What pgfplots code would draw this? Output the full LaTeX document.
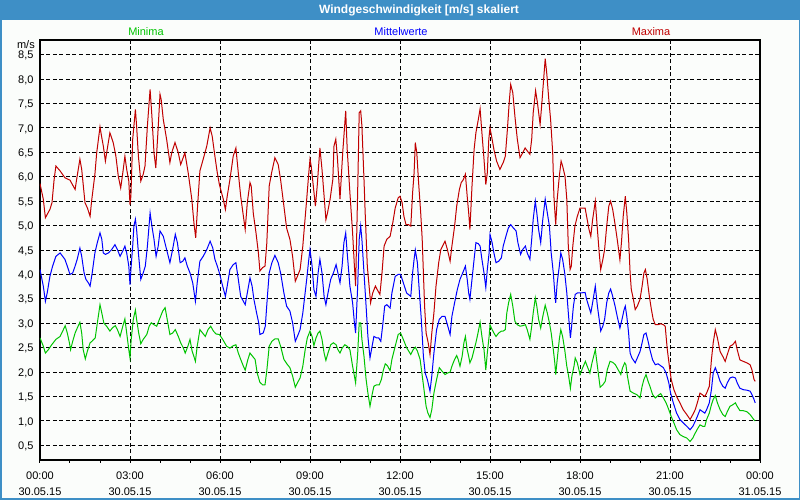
\documentclass[border=0pt]{standalone}
\usepackage{pgfplots}
\pgfplotsset{compat=1.18}
\usepackage{fontspec}
\setmainfont{Liberation Sans}
\definecolor{titlebar}{RGB}{62,143,198}
\definecolor{bgwin}{RGB}{251,253,251}
\definecolor{cmax}{RGB}{192,0,0}
\definecolor{cmean}{RGB}{0,0,255}
\definecolor{cmin}{RGB}{0,196,0}
\begin{document}
\begin{tikzpicture}[x=1pt,y=1pt]
\useasboundingbox (0,0) rectangle (800,500);
\fill[bgwin] (0,0) rectangle (800,500);
\fill[titlebar] (0,480) rectangle (800,500);
\draw[titlebar,line width=1.5pt] (0.75,0.75) rectangle (799.25,499.25);
\node[anchor=base,text=white,font=\fontsize{12}{14}\selectfont\bfseries] at (419,486) {Windgeschwindigkeit [m/s] skaliert};
\node[anchor=base,text=cmin,font=\fontsize{11}{13}\selectfont] at (146,464) {Minima};
\node[anchor=base,text=cmean,font=\fontsize{11}{13}\selectfont] at (401,464) {Mittelwerte};
\node[anchor=base,text=cmax,font=\fontsize{11}{13}\selectfont] at (651,464) {Maxima};
\node[anchor=base east,font=\fontsize{11}{13}\selectfont,inner sep=0pt] at (35,451.5) {m/s};
\begin{axis}[
  at={(40pt,40pt)}, anchor=south west,
  width=720pt, height=420pt, scale only axis,
  xmin=0, xmax=24, ymin=0.2, ymax=8.8,
  xtick={0,3,...,24},
  minor xtick={1,2,4,5,7,8,10,11,13,14,16,17,19,20,22,23},
  xticklabels={{00:00\\30.05.15},{03:00\\30.05.15},{06:00\\30.05.15},{09:00\\30.05.15},{12:00\\30.05.15},{15:00\\30.05.15},{18:00\\30.05.15},{21:00\\30.05.15},{00:00\\31.05.15}},
  xticklabel style={align=center,font=\fontsize{11}{16}\selectfont,yshift=-5pt},
  ytick={0.5,1,...,8.5},
  yticklabel style={font=\fontsize{11}{13}\selectfont,yshift=-1pt,
    /pgf/number format/assume math mode=true,
    /pgf/number format/use comma,
    /pgf/number format/fixed,
    /pgf/number format/fixed zerofill,
    /pgf/number format/precision=1},
  tick align=outside,
  xtick pos=lower, ytick pos=left,
  major tick length=3pt, minor tick length=3pt,
  tick style={black,line width=1pt},
  ytick style={draw=none},
  grid=major,
  major grid style={black,line width=0.9pt,dash pattern=on 4pt off 2.5pt},
  axis line style={black,line width=1.6pt},
  axis background/.style={fill=bgwin},
  clip=true,
]
\addplot[cmin,line width=1pt] coordinates {
(0.00,2.70)(0.11,2.53)(0.18,2.39)(0.28,2.46)(0.39,2.56)(0.53,2.67)(0.67,2.73)(0.78,2.87)(0.84,2.95)(0.91,2.80)(0.98,2.60)(1.02,2.46)(1.09,2.63)(1.17,2.80)(1.24,2.90)(1.33,3.02)(1.39,2.80)(1.44,2.46)(1.51,2.27)(1.58,2.43)(1.67,2.60)(1.73,2.63)(1.84,2.70)(1.91,3.00)(2.00,3.38)(2.06,3.21)(2.13,3.00)(2.22,2.94)(2.33,2.84)(2.42,2.91)(2.51,2.95)(2.58,2.87)(2.67,2.73)(2.76,2.94)(2.83,3.09)(2.89,2.80)(2.96,2.46)(3.00,2.29)(3.04,2.67)(3.11,3.08)(3.18,3.27)(3.22,3.08)(3.29,2.80)(3.36,2.58)(3.44,2.67)(3.56,2.77)(3.64,2.94)(3.71,3.01)(3.80,2.97)(3.89,2.94)(4.00,3.11)(4.09,3.25)(4.17,3.32)(4.24,3.08)(4.33,2.77)(4.42,2.80)(4.51,2.87)(4.61,2.73)(4.69,2.60)(4.78,2.49)(4.84,2.39)(4.93,2.53)(5.00,2.67)(5.07,2.43)(5.13,2.32)(5.18,2.22)(5.24,2.53)(5.33,2.87)(5.42,2.80)(5.51,2.73)(5.60,2.87)(5.69,2.94)(5.78,2.84)(5.87,2.78)(5.98,2.77)
(6.09,2.67)(6.22,2.53)(6.33,2.49)(6.44,2.54)(6.53,2.56)(6.61,2.39)(6.69,2.26)(6.78,2.12)(6.84,2.04)(6.93,2.26)(7.00,2.39)(7.09,2.32)(7.17,2.26)(7.24,1.98)(7.33,1.79)(7.42,1.74)(7.50,1.74)(7.56,2.03)(7.64,2.53)(7.73,2.63)(7.83,2.68)(7.94,2.68)(8.02,2.53)(8.13,2.26)(8.24,2.16)(8.33,2.09)(8.42,1.92)(8.51,1.69)(8.58,1.78)(8.67,1.88)(8.76,2.12)(8.84,2.46)(8.91,2.70)(9.00,2.84)(9.07,2.73)(9.13,2.54)(9.20,2.70)(9.27,2.80)(9.33,2.84)(9.40,2.67)(9.47,2.39)(9.53,2.24)(9.60,2.39)(9.69,2.56)(9.78,2.60)(9.87,2.56)(9.93,2.46)(10.00,2.39)(10.07,2.49)(10.16,2.56)(10.24,2.53)(10.33,2.46)(10.42,2.12)(10.48,1.92)(10.52,1.78)(10.59,2.39)(10.64,3.01)(10.69,3.01)(10.73,2.67)(10.80,2.32)(10.87,1.85)(10.93,1.57)(11.00,1.30)(11.07,1.54)(11.13,1.71)(11.22,1.74)(11.31,1.74)(11.38,1.85)(11.44,2.03)(11.51,2.17)(11.58,2.13)(11.67,2.03)(11.73,2.26)(11.84,2.53)(11.94,2.77)
(12.02,2.80)(12.11,2.67)(12.22,2.50)(12.36,2.36)(12.44,2.46)(12.51,2.51)(12.58,2.43)(12.67,2.26)(12.73,1.98)(12.80,1.64)(12.87,1.30)(12.93,1.16)(13.00,1.07)(13.06,1.23)(13.13,1.57)(13.22,1.85)(13.31,2.09)(13.40,2.02)(13.50,1.95)(13.58,1.98)(13.67,2.00)(13.73,2.12)(13.82,2.26)(13.89,2.34)(13.94,2.26)(14.00,2.12)(14.07,2.32)(14.13,2.60)(14.18,2.73)(14.24,2.46)(14.29,2.32)(14.33,2.19)(14.40,2.29)(14.47,2.46)(14.53,2.60)(14.60,2.80)(14.67,3.02)(14.73,2.73)(14.80,2.46)(14.86,2.04)(14.91,2.39)(14.97,2.73)(15.00,2.97)(15.07,2.87)(15.13,2.80)(15.20,2.73)(15.29,2.80)(15.38,2.84)(15.44,2.84)(15.51,2.87)(15.56,3.21)(15.62,3.42)(15.69,3.59)(15.76,3.35)(15.83,3.04)(15.91,2.97)(16.00,2.94)(16.09,2.95)(16.18,2.97)(16.24,2.87)(16.33,2.67)(16.39,2.94)(16.44,3.21)(16.51,3.52)(16.56,3.35)(16.62,3.08)(16.69,2.90)(16.76,3.14)(16.84,3.37)(16.91,3.21)(16.98,3.01)(17.04,2.80)(17.11,2.46)(17.16,2.19)(17.19,1.95)(17.24,2.26)(17.31,2.67)(17.36,2.87)(17.42,2.73)(17.49,2.46)(17.56,2.12)(17.62,1.92)(17.68,1.67)(17.73,1.92)(17.80,2.12)(17.84,2.29)(17.91,2.19)(18.00,1.95)
(18.09,2.09)(18.18,2.22)(18.24,2.12)(18.33,1.98)(18.40,2.19)(18.51,2.46)(18.58,2.12)(18.67,1.69)(18.76,1.74)(18.84,1.81)(18.91,2.05)(19.00,2.22)(19.09,2.20)(19.18,2.15)(19.27,2.05)(19.36,1.95)(19.42,2.09)(19.49,2.19)(19.53,2.15)(19.58,1.92)(19.67,1.61)(19.78,1.57)(19.89,1.54)(20.00,1.47)(20.07,1.71)(20.13,1.85)(20.20,1.95)(20.27,1.81)(20.33,1.71)(20.42,1.54)(20.51,1.47)(20.60,1.52)(20.69,1.56)(20.78,1.47)(20.87,1.37)(20.96,1.23)(21.04,1.09)(21.13,0.96)(21.22,0.82)(21.33,0.72)(21.44,0.68)(21.56,0.65)(21.67,0.58)(21.76,0.65)(21.84,0.75)(21.91,0.83)(22.00,0.92)(22.09,0.89)(22.16,0.89)(22.22,1.03)(22.31,1.16)(22.38,1.33)(22.44,1.44)(22.51,1.52)(22.58,1.37)(22.67,1.23)(22.76,1.13)(22.84,1.09)(22.91,1.19)(23.00,1.30)(23.09,1.33)(23.18,1.37)(23.24,1.30)(23.33,1.21)(23.44,1.21)(23.56,1.19)(23.67,1.13)(23.73,1.08)(23.80,1.02)(23.84,1.00)
};
\addplot[cmean,line width=1pt] coordinates {
(0.00,4.10)(0.11,3.76)(0.18,3.45)(0.24,3.62)(0.33,3.96)(0.42,4.17)(0.53,4.37)(0.67,4.44)(0.83,4.31)(0.91,4.17)(1.00,4.00)(1.09,4.03)(1.17,4.17)(1.24,4.31)(1.33,4.54)(1.39,4.37)(1.47,4.03)(1.53,3.90)(1.61,3.83)(1.67,3.76)(1.74,4.03)(1.83,4.44)(1.91,4.65)(2.00,4.85)(2.06,4.72)(2.11,4.44)(2.18,4.41)(2.28,4.44)(2.39,4.51)(2.50,4.61)(2.58,4.51)(2.67,4.37)(2.76,4.48)(2.83,4.58)(2.89,4.44)(2.96,4.17)(3.00,3.79)(3.03,4.10)(3.09,4.58)(3.13,4.99)(3.18,5.13)(3.22,4.92)(3.28,4.44)(3.36,3.90)(3.44,4.03)(3.51,4.17)(3.58,4.58)(3.67,5.26)(3.73,4.99)(3.80,4.72)(3.87,4.37)(3.94,4.58)(4.00,4.89)(4.11,4.78)(4.22,4.51)(4.33,4.24)(4.42,4.51)(4.51,4.82)(4.58,4.65)(4.67,4.24)(4.76,4.27)(4.83,4.34)(4.91,4.17)(5.00,4.03)(5.09,3.83)(5.18,3.45)(5.24,3.83)(5.33,4.27)(5.44,4.37)(5.56,4.51)(5.67,4.68)(5.76,4.54)(5.83,4.31)(5.91,4.17)(5.98,4.03)
(6.09,3.76)(6.18,3.55)(6.24,3.76)(6.33,4.10)(6.44,4.20)(6.53,4.24)(6.61,3.90)(6.69,3.55)(6.78,3.45)(6.84,3.38)(6.93,3.69)(7.00,3.93)(7.07,3.76)(7.13,3.49)(7.22,3.21)(7.29,3.01)(7.33,2.77)(7.44,2.80)(7.51,2.94)(7.58,3.55)(7.64,4.03)(7.73,4.24)(7.83,4.39)(7.94,4.24)(8.02,4.03)(8.13,3.62)(8.22,3.35)(8.33,3.25)(8.42,3.01)(8.51,2.63)(8.58,2.73)(8.67,2.87)(8.76,3.21)(8.89,3.90)(8.96,4.31)(9.00,4.51)(9.07,4.17)(9.13,3.69)(9.20,3.55)(9.27,4.03)(9.33,4.31)(9.40,4.03)(9.47,3.55)(9.53,3.38)(9.60,3.62)(9.69,3.90)(9.78,4.03)(9.87,4.20)(9.93,4.03)(10.00,3.83)(10.07,4.17)(10.13,4.65)(10.19,4.85)(10.24,4.44)(10.33,3.76)(10.42,3.42)(10.48,3.01)(10.52,2.80)(10.59,3.76)(10.64,4.72)(10.69,4.99)(10.73,4.72)(10.80,4.03)(10.87,3.35)(10.93,2.73)(11.00,2.29)(11.07,2.53)(11.13,2.73)(11.22,2.70)(11.29,2.70)(11.36,2.63)(11.42,2.94)(11.49,3.35)(11.56,3.38)(11.67,3.31)(11.73,3.62)(11.84,3.96)(11.94,4.00)
(12.02,4.00)(12.11,3.83)(12.22,3.62)(12.36,3.55)(12.42,4.03)(12.47,4.31)(12.51,4.50)(12.58,4.24)(12.64,3.69)(12.71,3.08)(12.78,2.32)(12.84,1.98)(12.91,1.85)(13.00,1.61)(13.06,1.92)(13.13,2.39)(13.22,2.87)(13.31,3.08)(13.40,3.14)(13.50,3.14)(13.58,2.97)(13.67,2.77)(13.73,3.14)(13.82,3.42)(13.91,3.69)(14.00,3.90)(14.09,4.03)(14.18,4.17)(14.24,3.90)(14.29,3.62)(14.33,3.49)(14.40,3.90)(14.47,4.31)(14.53,4.65)(14.61,4.63)(14.67,4.58)(14.73,4.31)(14.80,4.03)(14.86,3.73)(14.91,4.10)(14.97,4.44)(15.00,4.82)(15.07,4.65)(15.13,4.44)(15.20,4.24)(15.29,4.27)(15.38,4.34)(15.44,4.58)(15.53,4.78)(15.61,4.95)(15.69,5.02)(15.78,4.95)(15.87,4.89)(15.93,4.65)(16.02,4.41)(16.09,4.51)(16.18,4.58)(16.24,4.44)(16.33,4.31)(16.39,4.72)(16.44,5.13)(16.51,5.50)(16.56,5.26)(16.62,4.92)(16.69,4.65)(16.76,5.13)(16.84,5.54)(16.91,5.26)(16.98,4.99)(17.04,4.44)(17.11,4.03)(17.16,3.62)(17.19,3.42)(17.24,3.83)(17.31,4.17)(17.36,4.44)(17.42,4.31)(17.49,4.03)(17.56,3.62)(17.62,3.14)(17.68,2.70)(17.72,2.94)(17.78,3.35)(17.84,3.59)(17.91,3.62)(18.00,3.62)
(18.17,3.63)(18.22,3.49)(18.29,3.35)(18.36,3.21)(18.42,3.42)(18.51,3.76)(18.58,3.35)(18.64,3.08)(18.69,2.84)(18.76,2.94)(18.82,3.08)(18.89,3.42)(18.96,3.62)(19.02,3.70)(19.09,3.55)(19.17,3.35)(19.24,3.14)(19.33,2.90)(19.40,3.08)(19.47,3.28)(19.51,3.35)(19.56,3.14)(19.62,2.80)(19.67,2.39)(19.73,2.29)(19.84,2.19)(19.91,2.29)(20.00,2.42)(20.07,2.60)(20.13,2.77)(20.20,2.80)(20.27,2.63)(20.33,2.46)(20.42,2.25)(20.51,2.15)(20.60,2.17)(20.69,2.13)(20.78,2.09)(20.87,1.98)(20.96,1.78)(21.02,1.57)(21.11,1.37)(21.22,1.16)(21.33,1.03)(21.44,0.96)(21.56,0.89)(21.67,0.82)(21.76,0.89)(21.84,0.99)(21.91,1.09)(22.00,1.23)(22.09,1.19)(22.16,1.16)(22.22,1.23)(22.31,1.37)(22.38,1.64)(22.44,1.98)(22.51,2.09)(22.58,1.98)(22.67,1.81)(22.76,1.71)(22.84,1.67)(22.91,1.78)(23.00,1.88)(23.09,1.90)(23.18,1.88)(23.24,1.78)(23.33,1.67)(23.44,1.64)(23.56,1.63)(23.67,1.61)(23.73,1.54)(23.80,1.44)(23.84,1.37)
};
\addplot[cmax,line width=1pt] coordinates {
(0.00,5.86)(0.11,5.54)(0.18,5.16)(0.24,5.23)(0.33,5.33)(0.40,5.47)(0.47,5.94)(0.53,6.22)(0.67,6.12)(0.83,5.98)(1.00,5.93)(1.17,5.74)(1.22,5.94)(1.33,6.36)(1.39,6.15)(1.50,5.47)(1.58,5.36)(1.67,5.19)(1.72,5.50)(1.83,6.05)(1.89,6.49)(2.00,7.02)(2.04,6.87)(2.11,6.63)(2.18,6.32)(2.24,6.56)(2.33,6.90)(2.44,6.70)(2.53,6.42)(2.61,6.01)(2.69,5.77)(2.76,6.08)(2.83,6.42)(2.89,6.15)(2.96,5.91)(3.00,5.43)(3.03,5.60)(3.09,6.77)(3.18,7.38)(3.22,7.04)(3.28,6.42)(3.36,5.91)(3.44,6.05)(3.50,6.22)(3.58,7.04)(3.67,7.79)(3.73,7.24)(3.80,6.49)(3.86,6.18)(3.93,6.90)(4.00,7.69)(4.04,7.58)(4.11,7.17)(4.22,6.77)(4.33,6.29)(4.39,6.49)(4.50,6.70)(4.61,6.49)(4.69,6.25)(4.83,6.49)(4.94,6.08)(5.06,5.54)(5.13,5.06)(5.19,4.75)(5.26,5.47)(5.33,6.12)(5.44,6.36)(5.56,6.63)(5.67,7.00)(5.74,6.83)(5.83,6.42)(5.91,6.08)(5.98,5.84)
(6.11,5.54)(6.18,5.33)(6.24,5.60)(6.33,5.94)(6.44,6.42)(6.53,6.59)(6.61,6.08)(6.69,5.60)(6.78,5.19)(6.84,4.92)(6.91,5.47)(7.00,5.88)(7.04,5.81)(7.11,5.25)(7.20,4.85)(7.28,4.44)(7.33,4.07)(7.42,4.14)(7.50,4.17)(7.56,4.64)(7.64,5.81)(7.72,6.08)(7.83,6.39)(7.94,6.25)(8.02,5.94)(8.13,5.40)(8.22,4.95)(8.33,4.72)(8.42,4.37)(8.51,3.86)(8.58,3.96)(8.67,4.10)(8.76,4.58)(8.89,5.54)(8.96,6.08)(9.00,6.36)(9.04,6.22)(9.11,5.81)(9.18,5.40)(9.24,5.81)(9.33,6.59)(9.40,6.15)(9.47,5.60)(9.53,5.12)(9.58,5.25)(9.67,5.54)(9.76,5.94)(9.80,6.63)(9.86,6.77)(9.91,6.42)(10.00,5.54)(10.09,6.49)(10.13,6.83)(10.19,7.35)(10.24,6.56)(10.33,5.67)(10.42,4.85)(10.48,4.17)(10.52,3.76)(10.59,5.74)(10.64,7.31)(10.69,7.35)(10.73,7.04)(10.80,5.94)(10.84,5.25)(10.91,4.17)(10.98,3.69)(11.02,3.42)(11.09,3.62)(11.18,3.76)(11.24,3.69)(11.33,3.59)(11.40,4.03)(11.47,4.58)(11.56,4.72)(11.67,4.78)(11.76,5.06)(11.84,5.36)(11.94,5.57)
(12.00,5.60)(12.07,5.47)(12.13,5.19)(12.20,5.02)(12.28,5.02)(12.36,4.99)(12.42,5.67)(12.47,6.08)(12.51,6.70)(12.56,6.49)(12.62,5.88)(12.69,5.26)(12.74,4.72)(12.78,4.03)(12.82,3.35)(12.87,2.80)(12.94,2.60)(13.00,2.36)(13.06,2.80)(13.13,3.21)(13.20,3.76)(13.29,4.24)(13.36,4.51)(13.42,4.58)(13.50,4.68)(13.58,4.51)(13.67,4.27)(13.73,4.58)(13.82,4.99)(13.89,5.40)(13.98,5.74)(14.04,5.88)(14.11,5.94)(14.18,6.05)(14.24,5.60)(14.29,5.26)(14.33,4.92)(14.40,5.81)(14.47,6.56)(14.53,6.90)(14.61,7.17)(14.67,7.39)(14.73,6.90)(14.80,6.36)(14.86,5.84)(14.91,6.08)(14.96,6.77)(15.00,7.00)(15.07,6.77)(15.13,6.56)(15.22,6.32)(15.33,6.15)(15.44,6.29)(15.51,6.42)(15.58,6.97)(15.64,7.52)(15.69,7.89)(15.76,7.72)(15.83,7.24)(15.91,6.77)(16.00,6.39)(16.09,6.49)(16.17,6.59)(16.24,6.53)(16.33,6.46)(16.39,6.77)(16.44,7.31)(16.52,7.76)(16.58,7.52)(16.67,7.07)(16.73,7.52)(16.78,7.93)(16.84,8.42)(16.89,8.13)(16.96,7.58)(17.02,7.17)(17.09,6.49)(17.13,5.60)(17.19,5.02)(17.24,5.54)(17.31,6.01)(17.37,6.32)(17.42,6.22)(17.50,6.01)(17.56,5.54)(17.61,4.58)(17.67,4.10)(17.71,4.17)(17.76,4.58)(17.83,4.99)(17.91,5.19)(18.00,5.36)
(18.17,5.36)(18.22,5.19)(18.30,4.92)(18.36,4.78)(18.42,5.12)(18.51,5.50)(18.58,4.92)(18.64,4.44)(18.69,4.10)(18.76,4.30)(18.82,4.51)(18.89,4.99)(18.96,5.40)(19.02,5.50)(19.09,5.33)(19.17,5.02)(19.24,4.72)(19.33,4.30)(19.38,4.64)(19.44,5.19)(19.51,5.60)(19.56,5.26)(19.62,4.72)(19.67,4.03)(19.71,3.69)(19.78,3.49)(19.84,3.28)(19.91,3.35)(20.00,3.49)(20.07,3.76)(20.13,4.03)(20.18,4.10)(20.24,3.90)(20.31,3.56)(20.38,3.28)(20.44,3.08)(20.51,2.97)(20.60,2.97)(20.69,2.99)(20.78,2.97)(20.84,2.94)(20.91,2.46)(20.98,2.12)(21.04,1.85)(21.13,1.64)(21.22,1.50)(21.33,1.37)(21.44,1.23)(21.56,1.13)(21.67,1.03)(21.76,1.13)(21.84,1.23)(21.91,1.37)(22.00,1.57)(22.07,1.54)(22.16,1.50)(22.22,1.57)(22.31,1.71)(22.38,2.25)(22.44,2.60)(22.51,2.87)(22.58,2.70)(22.67,2.42)(22.76,2.32)(22.84,2.22)(22.91,2.36)(23.00,2.53)(23.09,2.56)(23.18,2.63)(23.24,2.46)(23.33,2.25)(23.44,2.22)(23.56,2.19)(23.67,2.15)(23.73,2.05)(23.80,1.85)(23.84,1.81)
};
\end{axis}
\end{tikzpicture}
\end{document}
